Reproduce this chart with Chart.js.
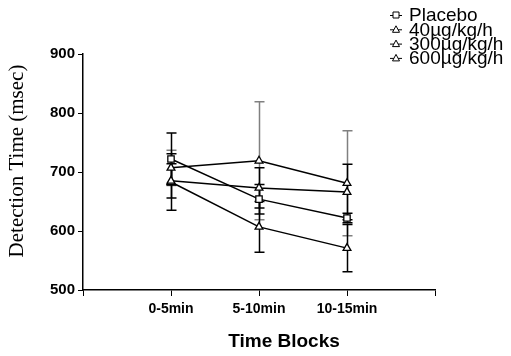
<!DOCTYPE html>
<html>
<head>
<meta charset="utf-8">
<script src="https://cdn.jsdelivr.net/npm/chart.js@4.4.0/dist/chart.umd.min.js"></script>
<style>
  html, body { margin: 0; padding: 0; background: #fff; }
  #wrap { width: 511px; height: 356px; }
</style>
</head>
<body>
<div id="wrap"><canvas id="detChart" width="511" height="356"></canvas></div>
<script>
// categories sit at x = 1, 2, 3 on an axis running 0..4
const blocks = ["0-5min", "5-10min", "10-15min"];
const blockPos = [1, 2, 3];

const seriesNames = ["Placebo", "40µg/kg/h", "300µg/kg/h", "600µg/kg/h"];
const placebo = [722, 654, 622];
const dose40 = [707, 719, 681];
const dose300 = [685, 673, 666];
const dose600 = [683, 607, 571];

const errPlacebo = [44, 25, 8];
const err40 = [30, 100, 89];
const err300 = [29, 34, 47];
const err600 = [48, 43, 40];

const yTicks = [500, 600, 700, 800, 900];

const allVals = [placebo, dose40, dose300, dose600];
const allErrs = [errPlacebo, err40, err300, err600];
const markers = ["rect", "triangle", "triangle", "triangle"];
const errColors = ["#000", "#808080", "#000", "#000"];

const sans = "'Liberation Sans', Arial, sans-serif";

const datasets = allVals.map((vals, i) => ({
  label: seriesNames[i],
  data: vals.map((v, j) => ({ x: blockPos[j], y: v })),
  errs: allErrs[i],
  errColor: errColors[i],
  borderColor: "#000",
  borderWidth: 1.5,
  pointStyle: markers[i],
  pointRadius: 4.5,
  pointBackgroundColor: "#fff",
  pointBorderColor: "#000",
  pointBorderWidth: 1.3,
  tension: 0
}));

// error bars, drawn under the markers
const errorBars = {
  id: "errorBars",
  beforeDatasetsDraw(chart) {
    const ctx = chart.ctx;
    const xs = chart.scales.x, ys = chart.scales.y;
    ctx.save();
    // grey one first so the black sit on top
    const order = [1, 0, 2, 3];
    order.forEach(i => {
      const ds = chart.data.datasets[i];
      ctx.strokeStyle = ds.errColor;
      ctx.lineWidth = 1.5;
      ds.data.forEach((p, j) => {
        const x = Math.round(xs.getPixelForValue(p.x)) + 0.5;
        const top = ys.getPixelForValue(p.y + ds.errs[j]);
        const bot = ys.getPixelForValue(p.y - ds.errs[j]);
        ctx.beginPath();
        ctx.moveTo(x, top); ctx.lineTo(x, bot);
        ctx.moveTo(x - 5, top); ctx.lineTo(x + 5, top);
        ctx.moveTo(x - 5, bot); ctx.lineTo(x + 5, bot);
        ctx.stroke();
      });
    });
    ctx.restore();
  }
};

// legend in the top right corner, lines packed tight; axis titles placed by hand
const extras = {
  id: "extras",
  afterDraw(chart) {
    const ctx = chart.ctx;
    ctx.save();
    ctx.font = "19px " + sans;
    ctx.textBaseline = "middle";
    seriesNames.forEach((name, i) => {
      const y = 15 + i * 14.3;
      const mx = 396;
      ctx.strokeStyle = "#000";
      ctx.lineWidth = 1;
      ctx.beginPath();
      ctx.moveTo(mx - 6, y + 0.5); ctx.lineTo(mx + 6, y + 0.5);
      ctx.stroke();
      ctx.fillStyle = "#fff";
      ctx.beginPath();
      if (markers[i] === "rect") {
        ctx.rect(mx - 3, y - 3, 6, 6);
      } else {
        ctx.moveTo(mx, y - 3.5); ctx.lineTo(mx + 3.5, y + 3); ctx.lineTo(mx - 3.5, y + 3); ctx.closePath();
      }
      ctx.fill(); ctx.stroke();
      ctx.fillStyle = "#000";
      ctx.fillText(name, 409, y + 1);
    });

    ctx.fillStyle = "#000";
    ctx.textAlign = "center";
    ctx.font = "bold 19px " + sans;
    ctx.fillText("Time Blocks", 284, 342);

    ctx.translate(17, 161);
    ctx.rotate(-Math.PI / 2);
    ctx.font = "21px 'Liberation Serif', 'Times New Roman', serif";
    ctx.fillText("Detection Time (msec)", 0, 0);
    ctx.restore();
  }
};

new Chart(document.getElementById("detChart"), {
  type: "line",
  data: { datasets: datasets },
  plugins: [errorBars, extras],
  options: {
    responsive: false,
    animation: false,
    layout: { padding: { top: 54, right: 76, left: 0, bottom: 0 } },
    plugins: { legend: { display: false }, tooltip: { enabled: false } },
    scales: {
      x: {
        type: "linear",
        min: 0, max: 4,
        afterFit(s) { s.height = 66; },
        afterBuildTicks(s) { s.ticks = [0, 1, 2, 3, 4].map(v => ({ value: v })); },
        ticks: {
          autoSkip: false,
          maxRotation: 0,
          padding: 5,
          color: "#000",
          font: { family: sans, size: 14, weight: "bold" },
          callback: v => (blockPos.indexOf(v) >= 0 ? blocks[blockPos.indexOf(v)] : "")
        },
        grid: { drawOnChartArea: false, drawTicks: true, tickLength: 6, color: "#000", lineWidth: 1 },
        border: { color: "#000", width: 1.5 }
      },
      y: {
        min: 500, max: 900,
        afterFit(s) { s.width = 83; },
        afterBuildTicks(s) { s.ticks = yTicks.map(v => ({ value: v })); },
        ticks: {
          padding: 3,
          color: "#000",
          font: { family: sans, size: 15, weight: "bold" }
        },
        grid: { drawOnChartArea: false, drawTicks: true, tickLength: 5, color: "#000", lineWidth: 1 },
        border: { color: "#000", width: 1.5 }
      }
    }
  }
});
</script>
</body>
</html>
